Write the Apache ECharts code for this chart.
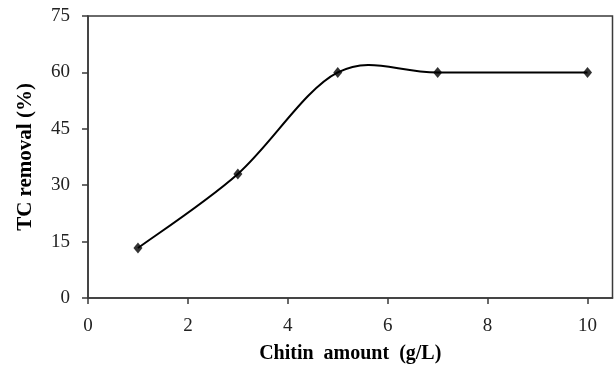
<!DOCTYPE html>
<html><head><meta charset="utf-8">
<script src="https://cdn.jsdelivr.net/npm/echarts@6/dist/echarts.min.js"></script>
<style>html,body{margin:0;padding:0;background:#fff}#c{width:614px;height:369px}</style>
</head><body><div id="c"></div>
<script>
const chitinAmount = [1, 3, 5, 7, 10];
const tcRemoval = [13.3, 33, 60, 60, 60];
const xTicks = [0, 2, 4, 6, 8, 10];
const yTicks = [0, 15, 30, 45, 60, 75];

const chart = echarts.init(document.getElementById('c'), null, {renderer: 'canvas'});
const font = '"Liberation Serif", "Times New Roman", serif';
const axisCol = '#3a3a3a';
const points = chitinAmount.map((x, i) => [x, tcRemoval[i]]);

// Excel-like smoothed line (Catmull-Rom -> cubic Bezier), positioned via api.coord
function renderSmooth(params, api) {
  if (params.dataIndex !== 0) return null;
  const P = points.map(p => api.coord(p));
  const n = P.length;
  let d = 'M' + P[0][0] + ' ' + P[0][1];
  for (let i = 0; i < n - 1; i++) {
    const p0 = P[Math.max(i - 1, 0)], p1 = P[i], p2 = P[i + 1], p3 = P[Math.min(i + 2, n - 1)];
    const c1 = [p1[0] + (p2[0] - p0[0]) / 6, p1[1] + (p2[1] - p0[1]) / 6];
    const c2 = [p2[0] - (p3[0] - p1[0]) / 6, p2[1] - (p3[1] - p1[1]) / 6];
    d += ' C' + c1[0] + ' ' + c1[1] + ' ' + c2[0] + ' ' + c2[1] + ' ' + p2[0] + ' ' + p2[1];
  }
  return {
    type: 'path',
    shape: {pathData: d},
    style: {fill: 'none', stroke: '#000', lineWidth: 2}
  };
}

chart.setOption({
  animation: false,
  backgroundColor: '#fff',
  grid: {left: 88, top: 16, right: 1.5, bottom: 69, show: true, borderColor: axisCol, borderWidth: 1.5},
  xAxis: {
    type: 'value', min: 0, max: 10.5, interval: 2,
    name: 'Chitin  amount  (g/L)', nameLocation: 'middle', nameGap: 46,
    nameTextStyle: {fontFamily: font, fontWeight: 'bold', fontSize: 20, color: '#000'},
    axisLine: {show: true, lineStyle: {color: axisCol, width: 1.5}},
    axisTick: {show: true, length: 6, inside: false, customValues: xTicks, lineStyle: {color: axisCol, width: 1.5}},
    axisLabel: {customValues: xTicks, fontFamily: font, fontSize: 19, color: '#222', margin: 19},
    splitLine: {show: false}
  },
  yAxis: {
    type: 'value', min: 0, max: 75, interval: 15,
    name: 'TC removal (%)', nameLocation: 'middle', nameGap: 52,
    nameTextStyle: {fontFamily: font, fontWeight: 'bold', fontSize: 21, color: '#000'},
    axisLine: {show: true, lineStyle: {color: axisCol, width: 1.5}},
    axisTick: {show: true, length: 6, lineStyle: {color: axisCol, width: 1.5}},
    axisLabel: {fontFamily: font, fontSize: 19, color: '#222', margin: 18, formatter: v => yTicks.includes(v) ? String(v) : ''},
    splitLine: {show: false}
  },
  series: [{
    type: 'custom',
    renderItem: renderSmooth,
    data: points,
    silent: true,
    z: 2
  }, {
    type: 'scatter',
    data: points,
    symbol: 'diamond', symbolSize: [9, 11],
    itemStyle: {color: '#000'},
    z: 3
  }]
});
</script></body></html>
